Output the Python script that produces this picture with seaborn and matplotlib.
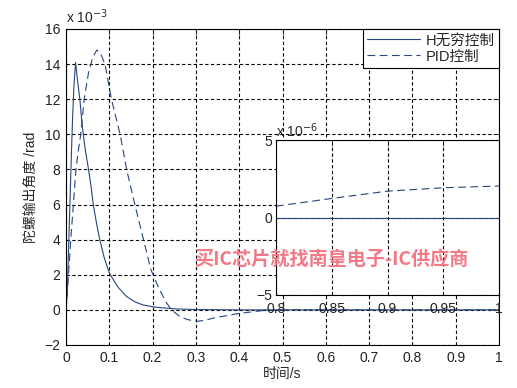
import numpy as np
import pandas as pd
import matplotlib
matplotlib.use('Agg')
import matplotlib.pyplot as plt
import seaborn as sns
from matplotlib.lines import Line2D

# time (s) and angle (x 1e-3 rad)
t_hinf = [0, 0.003, 0.006, 0.009, 0.012, 0.015, 0.018, 0.022, 0.027, 0.032, 0.037,
          0.044, 0.052, 0.058, 0.063, 0.07, 0.078, 0.088, 0.1, 0.12, 0.14, 0.16,
          0.178, 0.2, 0.217, 0.25, 0.3, 0.4, 0.5, 0.6, 0.7, 0.8, 0.9, 1.0]
v_hinf = [0, 1.0, 3.5, 6.0, 8.5, 10.8, 12.6, 14.1, 13.0, 12.0, 10.6,
          9.2, 8.0, 7.0, 6.0, 5.0, 4.0, 3.0, 2.1, 1.3, 0.76, 0.45,
          0.28, 0.18, 0.13, 0.06, 0.02, 0.0, 0.0, 0.0, 0.0, 0.0, 0.0, 0.0]

t_pid = [0, 0.003, 0.006, 0.011, 0.017, 0.023, 0.028, 0.034, 0.042, 0.052, 0.062,
         0.071, 0.08, 0.09, 0.105, 0.125, 0.14, 0.159, 0.179, 0.196, 0.215, 0.232,
         0.244, 0.263, 0.28, 0.302, 0.32, 0.34, 0.37, 0.4, 0.45, 0.5, 0.6, 0.7,
         0.8, 0.85, 0.9, 0.95, 1.0]
v_pid = [0, 1.0, 2.1, 4.0, 6.0, 8.0, 9.0, 10.0, 12.0, 13.5, 14.4,
         14.8, 14.6, 14.0, 12.0, 10.0, 8.0, 6.0, 4.0, 2.3, 1.2, 0.4,
         0.0, -0.38, -0.55, -0.65, -0.6, -0.47, -0.33, -0.2, -0.05, 0.0, 0.0, 0.0,
         0.00073, 0.00123, 0.0017, 0.00192, 0.00203]

x_ticks = [0, 0.1, 0.2, 0.3, 0.4, 0.5, 0.6, 0.7, 0.8, 0.9, 1]
x_tick_labels = ['0', '0.1', '0.2', '0.3', '0.4', '0.5', '0.6', '0.7', '0.8', '0.9', '1']
y_ticks = [-2, 0, 2, 4, 6, 8, 10, 12, 14, 16]
in_x_ticks = [0.8, 0.85, 0.9, 0.95, 1]
in_x_labels = ['0.8', '0.85', '0.9', '0.95', '1']
in_y_ticks = [-5, 0, 5]

labels = ['H无穷控制', 'PID控制']

sns.set_theme(style='white')
plt.rcParams['font.family'] = ['Liberation Sans', 'Noto Sans CJK SC', 'DejaVu Sans']
plt.rcParams['xtick.direction'] = 'in'
plt.rcParams['ytick.direction'] = 'in'

line_color = '#26467c'
grid_kw = dict(color='black', linestyle=(0, (3, 2.2)), linewidth=0.8)
pid_ls = (0, (7, 4))

df_h = pd.DataFrame({'t': t_hinf, 'v': v_hinf})
df_p = pd.DataFrame({'t': t_pid, 'v': v_pid})

fig = plt.figure(figsize=(5.17, 3.88), dpi=100)
ax = fig.add_axes([66 / 517, 1 - 345 / 388, 433 / 517, 316 / 388])

sns.lineplot(data=df_h, x='t', y='v', ax=ax, color=line_color, linewidth=0.8)
sns.lineplot(data=df_p, x='t', y='v', ax=ax, color=line_color, linewidth=0.8,
             linestyle=pid_ls)

ax.set_xlim(0, 1)
ax.set_ylim(-2, 16)
ax.set_xticks(x_ticks)
ax.set_xticklabels(x_tick_labels)
ax.set_yticks(y_ticks)
ax.grid(True, **grid_kw)
ax.tick_params(axis='both', labelsize=10, colors='#222222', length=4, width=0.6,
               top=True, right=True, pad=4)
for s in ax.spines.values():
    s.set_color('black')
    s.set_linewidth(0.8)
ax.set_xlabel('时间/s', fontsize=10, labelpad=2)
ax.set_ylabel('陀螺输出角度 /rad', fontsize=10, labelpad=5)
ax.text(0.0, 1.01, r'x 10$^{-3}$', transform=ax.transAxes, fontsize=10,
        ha='left', va='bottom')

handles = [Line2D([], [], color=line_color, linewidth=0.8),
           Line2D([], [], color=line_color, linewidth=0.8, linestyle=pid_ls)]
leg = ax.legend(handles, labels, loc='upper right', fontsize=10.5, frameon=True,
                fancybox=False, framealpha=1, edgecolor='black', borderpad=0.3,
                handlelength=3.6, handletextpad=0.4, labelspacing=0.15,
                borderaxespad=0)
leg.get_frame().set_linewidth(0.8)

# inset zoom on 0.8 - 1 s
ins = fig.add_axes([276 / 517, 1 - 295 / 388, 223 / 517, 155 / 388])
ins.set_facecolor('white')
df_hi = df_h[df_h['t'] >= 0.8].assign(v=lambda d: d['v'] * 1000)
df_pi = df_p[df_p['t'] >= 0.8].assign(v=lambda d: d['v'] * 1000)
sns.lineplot(data=df_hi, x='t', y='v', ax=ins, color=line_color, linewidth=0.8)
sns.lineplot(data=df_pi, x='t', y='v', ax=ins, color=line_color, linewidth=0.8,
             linestyle=pid_ls)
ins.set_xlim(0.8, 1)
ins.set_ylim(-5, 5)
ins.set_xticks(in_x_ticks)
ins.set_xticklabels(in_x_labels)
ins.set_yticks(in_y_ticks)
ins.grid(True, **grid_kw)
ins.set_xlabel('')
ins.set_ylabel('')
ins.tick_params(axis='both', labelsize=10, colors='#222222', length=4, width=0.6,
                top=True, right=True, pad=3)
ins.tick_params(axis='x', pad=5)
for s in ins.spines.values():
    s.set_color('black')
    s.set_linewidth(0.8)
ins.text(0.0, 1.0, r'x 10$^{-6}$', transform=ins.transAxes, fontsize=10,
         ha='left', va='bottom')

fig.text(331 / 517, 1 - 259 / 388, '买IC芯片就找南皇电子-IC供应商', fontsize=13.8,
         fontweight='bold', color='#f27985', ha='center', va='center',
         family=['Noto Sans CJK SC', 'DejaVu Sans'], zorder=10)

fig.savefig('out.png', dpi=100, facecolor='white')
